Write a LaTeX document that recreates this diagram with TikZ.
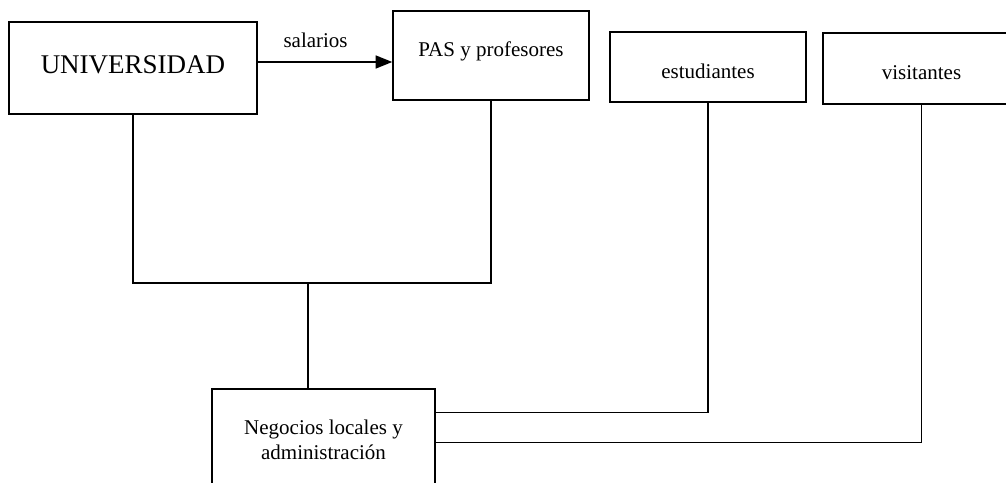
\documentclass[tikz,border=0pt]{standalone}
\usepackage{fontspec}
\setmainfont{Liberation Serif}
\usetikzlibrary{arrows.meta}

\begin{document}
\begin{tikzpicture}[x=0.5pt,y=0.5pt,
    caja/.style={draw,line width=0.75pt,inner sep=0pt,text depth=0pt,font=\fontsize{10.5}{12.5}\selectfont},
    linea/.style={line width=0.75pt},
    flecha/.style={line width=0.75pt,-{Triangle[length=8.3pt,width=6.5pt]}}]
    \useasboundingbox (0,0) rectangle (1006,482);
    \clip (0,0) rectangle (1006,482);

    % Boxes
    \node[caja,minimum width=124pt,minimum height=46pt,text height=6pt,font=\fontsize{13.5}{16}\selectfont] (uni) at (133,414) {UNIVERSIDAD};
    \node[caja,minimum width=98pt,minimum height=44.5pt,text height=1.5pt] (pas) at (491,426.5) {PAS y profesores};
    \node[caja,minimum width=98pt,minimum height=35pt,text height=12pt] (est) at (708,415) {estudiantes};
    \node[caja,minimum width=98.5pt,minimum height=35.5pt,text height=11.5pt] (vis) at (921.5,413.5) {visitantes};
    \node[caja,minimum width=111.5pt,minimum height=50.5pt,align=center] (neg) at (323.5,42.5) {Negocios locales y\\administración};

    % Salaries
    \draw[flecha] ([yshift=3pt]uni.east) -- ([yshift=3pt]pas.west |- uni.east)
        node[pos=0.43,above=7pt,inner sep=0pt,font=\fontsize{10.5}{12.5}\selectfont] (sal) {salarios};

    % Links
    \coordinate (barra) at (308,199);
    \draw[linea] (uni.south) |- (pas.south |- barra) -- (pas.south);
    \draw[linea] (barra) -- (barra |- neg.north);
    \draw[linea] ([yshift=-12pt]neg.north east) -| (est.south);
    \draw[linea] ([yshift=-27pt]neg.north east) -| (vis.south);
\end{tikzpicture}
\end{document}
